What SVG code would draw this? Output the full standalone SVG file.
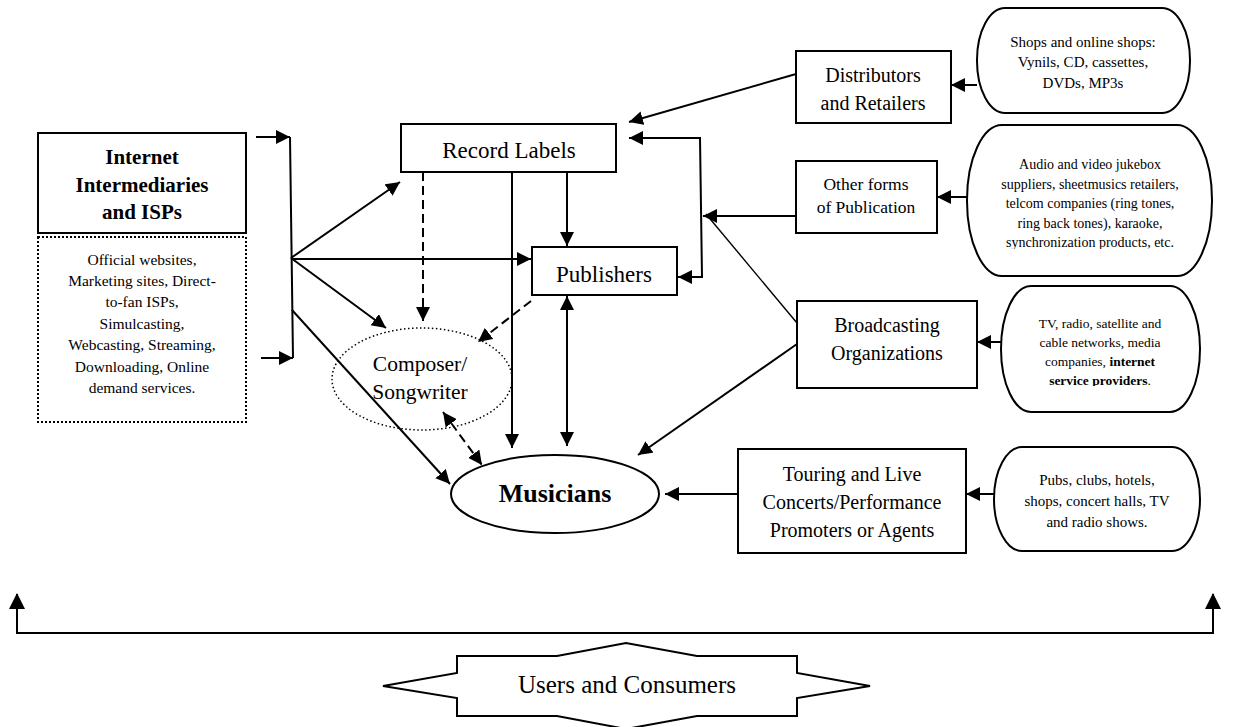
<svg xmlns="http://www.w3.org/2000/svg" width="1242" height="727" viewBox="0 0 1242 727">
  <style>
    .box { fill: #fff; stroke: #000; stroke-width: 2; }
    .dotbox { fill: #fff; stroke: #000; stroke-width: 2; stroke-dasharray: 2 2; }
    .dotell { fill: none; stroke: #000; stroke-width: 1.5; stroke-dasharray: 1.5 2.5; }
    .t { font-family: "Liberation Serif", "Times New Roman", serif; fill: #000; text-anchor: middle; }
    .b { font-weight: bold; }
    .c { fill: none; stroke: #000; stroke-width: 2; }
    .thin { stroke-width: 1.4; }
    .dash { stroke-dasharray: 9 5; }
    .end { marker-end: url(#ah); }
    .both { marker-start: url(#ah); marker-end: url(#ah); }
  </style>
  <defs>
    <marker id="ah" markerUnits="userSpaceOnUse" markerWidth="15" markerHeight="15" refX="14" refY="7" orient="auto-start-reverse">
      <path d="M0,0 L14,7 L0,14 z" fill="#000"/>
    </marker>
    <marker id="ahb" markerUnits="userSpaceOnUse" markerWidth="17" markerHeight="17" refX="15" refY="8" orient="auto-start-reverse">
      <path d="M0,0 L16,8 L0,16 z" fill="#000"/>
    </marker>
    <clipPath id="clipShops"><rect x="977" y="8" width="213" height="82"/></clipPath>
    <clipPath id="clipOther"><rect x="967" y="125" width="245" height="124"/></clipPath>
    <clipPath id="clipTv"><rect x="1001" y="286" width="199" height="100"/></clipPath>
  </defs>

  <!-- connectors -->
  <g id="connectors">
    <!-- left bracket feeding the fan -->
    <path class="c end" d="M256,137 L290,137"/>
    <path class="c end" d="M261,358 L293,358"/>
    <path class="c" d="M290,137 L293,358"/>
    <path class="c end" d="M291,258 L400,182"/>
    <path class="c end" d="M291,259 L531,259"/>
    <path class="c end" d="M291,258 L386,328"/>
    <path class="c end" d="M292,310 L450,484"/>

    <!-- from record labels and publishers -->
    <path class="c dash end" d="M423,172 L423,321"/>
    <path class="c end" d="M512,172 L512,448"/>
    <path class="c end" d="M567,172 L567,246"/>
    <path class="c both" d="M567,296 L567,446"/>
    <path class="c dash end" d="M531,301 L478,342"/>
    <path class="c dash both" d="M443,412 L482,465"/>

    <!-- right side into the labels / publishers -->
    <path class="c end" d="M796,74 L629,122"/>
    <path class="c both" d="M629,138 L700,138 L702,277 L678,277"/>
    <path class="c end" d="M796,216 L703,216"/>
    <path class="c thin" d="M797,323 L706,214"/>
    <path class="c end" d="M797,344 L638,455"/>
    <path class="c end" d="M738,494 L665,494"/>

    <!-- from the outlets into the boxes -->
    <path class="c end" d="M977,85 L951,85"/>
    <path class="c end" d="M967,197 L937,197"/>
    <path class="c end" d="M1001,342 L977,342"/>
    <path class="c end" d="M994,494 L966,494"/>

    <!-- bottom bracket to the users -->
    <path class="c" style="marker-start:url(#ahb);marker-end:url(#ahb)" d="M17,594 L17,633 L1213,633 L1213,594"/>
  </g>

  <g id="internet-intermediaries">
    <rect class="box" x="38" y="133" width="208" height="100"/>
    <text class="t b" font-size="21" x="142" y="164">Internet</text>
    <text class="t b" font-size="21" x="142" y="192">Intermediaries</text>
    <text class="t b" font-size="21" x="142" y="219">and ISPs</text>
  </g>

  <g id="internet-services">
    <rect class="dotbox" x="38" y="237" width="208" height="185"/>
    <g class="t" font-size="15.5">
      <text x="142" y="265">Official websites,</text>
      <text x="142" y="286">Marketing sites, Direct-</text>
      <text x="142" y="307">to-fan ISPs,</text>
      <text x="142" y="329">Simulcasting,</text>
      <text x="142" y="350">Webcasting, Streaming,</text>
      <text x="142" y="372">Downloading, Online</text>
      <text x="142" y="393">demand services.</text>
    </g>
  </g>

  <g id="record-labels">
    <rect class="box" x="401" y="124" width="215" height="48"/>
    <text class="t" font-size="23" x="509" y="158">Record Labels</text>
  </g>

  <g id="publishers">
    <rect class="box" x="532" y="247" width="145" height="48"/>
    <text class="t" font-size="23" x="604" y="282">Publishers</text>
  </g>

  <g id="composer">
    <ellipse class="dotell" cx="422" cy="379" rx="90" ry="51"/>
    <text class="t" font-size="21.5" x="420" y="371">Composer/</text>
    <text class="t" font-size="21.5" x="420" y="399">Songwriter</text>
  </g>

  <g id="musicians">
    <ellipse class="box" cx="555" cy="494" rx="104" ry="39"/>
    <text class="t b" font-size="26" x="555" y="502">Musicians</text>
  </g>

  <g id="distributors">
    <rect class="box" x="796" y="51" width="155" height="72"/>
    <text class="t" font-size="20" x="873" y="82">Distributors</text>
    <text class="t" font-size="20" x="873" y="110">and Retailers</text>
  </g>

  <g id="other-publication">
    <rect class="box" x="796" y="161" width="141" height="72"/>
    <text class="t" font-size="17.5" x="866" y="190">Other forms</text>
    <text class="t" font-size="17.5" x="866" y="213">of Publication</text>
  </g>

  <g id="broadcasting">
    <rect class="box" x="797" y="301" width="180" height="87"/>
    <text class="t" font-size="20" x="887" y="332">Broadcasting</text>
    <text class="t" font-size="20" x="887" y="360">Organizations</text>
  </g>

  <g id="touring">
    <rect class="box" x="738" y="449" width="228" height="104"/>
    <text class="t" font-size="20" x="852" y="481">Touring and Live</text>
    <text class="t" font-size="20" x="852" y="509">Concerts/Performance</text>
    <text class="t" font-size="20" x="852" y="537">Promoters or Agents</text>
  </g>

  <g id="shops">
    <rect class="box" x="977" y="8" width="213" height="105" rx="28" ry="52"/>
    <g class="t" font-size="15" clip-path="url(#clipShops)">
      <text x="1083" y="47">Shops and online shops:</text>
      <text x="1083" y="67">Vynils, CD, cassettes,</text>
      <text x="1083" y="88">DVDs, MP3s</text>
    </g>
  </g>

  <g id="other-outlets">
    <rect class="box" x="967" y="125" width="245" height="151" rx="35" ry="75"/>
    <g class="t" font-size="14" clip-path="url(#clipOther)">
      <text x="1090" y="169">Audio and video jukebox</text>
      <text x="1090" y="189">suppliers, sheetmusics retailers,</text>
      <text x="1090" y="208">telcom companies (ring tones,</text>
      <text x="1090" y="228">ring back tones), karaoke,</text>
      <text x="1090" y="247">synchronization products, etc.</text>
    </g>
  </g>

  <g id="broadcast-outlets">
    <rect class="box" x="1001" y="286" width="199" height="126" rx="30" ry="63"/>
    <g class="t" font-size="13.5" clip-path="url(#clipTv)">
      <text x="1100" y="328">TV, radio, satellite and</text>
      <text x="1100" y="347">cable networks, media</text>
      <text x="1100" y="366">companies, <tspan font-weight="bold">internet</tspan></text>
      <text x="1100" y="385"><tspan font-weight="bold">service providers</tspan>.</text>
    </g>
  </g>

  <g id="venues">
    <rect class="box" x="994" y="447" width="206" height="104" rx="28" ry="52"/>
    <g class="t" font-size="15">
      <text x="1097" y="485">Pubs, clubs, hotels,</text>
      <text x="1097" y="506">shops, concert halls, TV</text>
      <text x="1097" y="527">and radio shows.</text>
    </g>
  </g>

  <g id="users">
    <polygon class="box" points="383,686 457,673 457,656 557,656 626,643 697,656 797,656 797,673 870,686 797,698 797,716 697,716 626,729 557,716 457,716 457,698"/>
    <text class="t" font-size="25" x="627" y="693">Users and Consumers</text>
  </g>
</svg>
